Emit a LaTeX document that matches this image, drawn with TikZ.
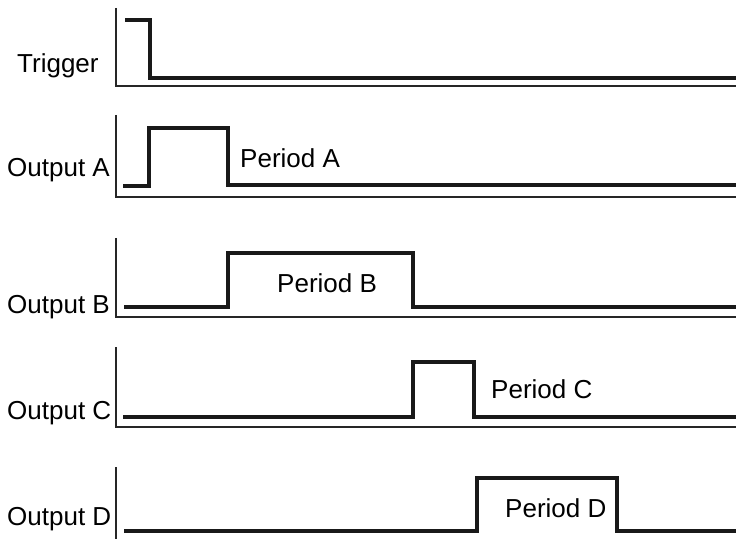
\documentclass[tikz,border=0pt]{standalone}
\usepackage{fontspec}
\setmainfont{Liberation Sans}
\begin{document}
\begin{tikzpicture}[x=1bp,y=-1bp,
  axis/.style={line width=2.6bp,draw=black!85},
  sig/.style={line width=3.6bp,draw=black!90,line join=miter},
  lbl/.style={anchor=base west,inner sep=0pt,font=\fontsize{26bp}{30bp}\selectfont}]
\useasboundingbox (0,0) rectangle (736,539);
% Trigger
\coordinate (t0) at (116,8);
\coordinate (t1) at (116,86);
\coordinate (t2) at (736,86);
\draw[axis] (t0) -- (t1) -- (t2);
\draw[sig] (125,20) -- (150,20) -- (150,78) -- (736,78);
\node[lbl] (lt) at (17,73) {Trigger};
% Output A
\coordinate (a0) at (116,115);
\coordinate (a1) at (116,197);
\coordinate (a2) at (736,197);
\draw[axis] (a0) -- (a1) -- (a2);
\draw[sig] (123,186) -- (149,186) -- (149,128) -- (228,128) -- (228,185) -- (736,185);
\node[lbl] (la) at (7,177) {Output A};
\node[lbl] (pa) at (240,168) {Period A};
% Output B
\coordinate (b0) at (116,238);
\coordinate (b1) at (116,317);
\coordinate (b2) at (736,317);
\draw[axis] (b0) -- (b1) -- (b2);
\draw[sig] (124,307) -- (228,307) -- (228,253) -- (413,253) -- (413,307) -- (736,307);
\node[lbl] (lb) at (7,313) {Output B};
\node[lbl] (pb) at (277,293) {Period B};
% Output C
\coordinate (c0) at (116,347);
\coordinate (c1) at (116,427);
\coordinate (c2) at (736,427);
\draw[axis] (c0) -- (c1) -- (c2);
\draw[sig] (123,417) -- (413,417) -- (413,362) -- (474,362) -- (474,417) -- (736,417);
\node[lbl] (lc) at (7,419) {Output C};
\node[lbl] (pc) at (491,398) {Period C};
% Output D
\coordinate (d0) at (116,467);
\coordinate (d1) at (116,539);
\draw[axis] (d0) -- (d1);
\draw[sig] (124,531) -- (477,531) -- (477,478) -- (617,478) -- (617,531) -- (736,531);
\node[lbl] (ld) at (7,525) {Output D};
\node[lbl] (pd) at (505,517) {Period D};
\end{tikzpicture}
\end{document}
